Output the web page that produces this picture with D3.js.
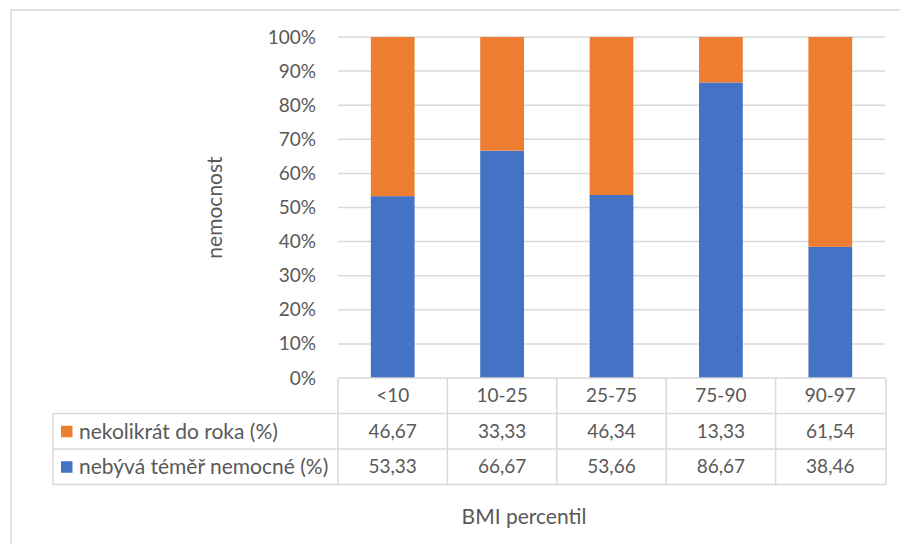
<!DOCTYPE html>
<html>
<head>
<meta charset="utf-8">
<script src="https://cdn.jsdelivr.net/npm/d3@7"></script>
<style>
  html, body { margin: 0; padding: 0; background: #fff; }
  svg { display: block; font-family: Lato, "Open Sans", sans-serif; }
</style>
</head>
<body>
<svg id="chart" width="900" height="544"></svg>
<script>
// BMI percentile groups and share of children in each illness frequency (%)
const categories = ["<10", "10-25", "25-75", "75-90", "90-97"];
const seriesNames = ["nekolikrát do roka (%)", "nebývá téměř nemocné (%)"];
const severalTimesYear = [46.67, 33.33, 46.34, 13.33, 61.54];
const almostNeverIll = [53.33, 66.67, 53.66, 86.67, 38.46];
const yTicks = [0, 10, 20, 30, 40, 50, 60, 70, 80, 90, 100];

const colors = { several: "#ED7D31", never: "#4472C4" };
const textColor = "#595959";
const lineColor = "#D9D9D9";
const numSize = 19;   // numbers and tick labels
const wordSize = 21;  // word labels and titles
const fmt = v => v.toFixed(2).replace(".", ",");

const svg = d3.select("#chart");

// outer chart frame
svg.append("rect")
  .attr("x", 11).attr("y", 10)
  .attr("width", 1000).attr("height", 1000)
  .attr("fill", "none").attr("stroke", lineColor).attr("stroke-width", 1.5);

const plot = { left: 338, right: 885, top: 37, bottom: 378 };

const x = d3.scaleBand()
  .domain(categories)
  .range([plot.left, plot.right])
  .paddingInner(0.6)
  .paddingOuter(0.3);

const y = d3.scaleLinear().domain([0, 100]).range([plot.bottom, plot.top]);

// gridlines
svg.append("g").selectAll("line").data(yTicks.filter(t => t > 0)).join("line")
  .attr("x1", plot.left).attr("x2", plot.right)
  .attr("y1", d => y(d)).attr("y2", d => y(d))
  .attr("stroke", lineColor).attr("stroke-width", 1.5);

// y axis labels
const yAxis = d3.axisLeft(y).tickValues(yTicks).tickFormat(d => d + "%").tickSize(0).tickPadding(22);
const yg = svg.append("g").attr("transform", `translate(${plot.left},0)`).call(yAxis);
yg.select(".domain").remove();
yg.selectAll("text")
  .attr("fill", textColor).style("font-size", numSize + "px")
  .style("font-family", "Lato, 'Open Sans', sans-serif");

// stacked columns
const rows = categories.map((c, i) => ({ cat: c, never: almostNeverIll[i], several: severalTimesYear[i] }));
const stack = d3.stack().keys(["never", "several"])(rows);
svg.append("g").selectAll("g").data(stack).join("g")
  .attr("fill", s => colors[s.key])
  .selectAll("rect").data(s => s).join("rect")
  .attr("x", d => x(d.data.cat))
  .attr("width", x.bandwidth())
  .attr("y", d => y(d[1]))
  .attr("height", d => y(d[0]) - y(d[1]));

// y axis title
svg.append("text")
  .attr("transform", `translate(222,${(plot.top + plot.bottom) / 2}) rotate(-90)`)
  .attr("text-anchor", "middle")
  .attr("fill", textColor).style("font-size", wordSize + "px")
  .text("nemocnost");

// data table beneath the plot
const rowH = 35.5;
const tableTop = plot.bottom;
const tableLeft = 53;
const colEdges = categories.map(c => x(c) - (x.step() - x.bandwidth()) / 2).concat([plot.right + 1]);
colEdges[0] = plot.left;
const tg = svg.append("g");

// horizontal rules
tg.append("line").attr("x1", plot.left).attr("x2", plot.right + 1)
  .attr("y1", tableTop).attr("y2", tableTop);
[1, 2, 3].forEach(r => {
  tg.append("line").attr("x1", tableLeft).attr("x2", plot.right + 1)
    .attr("y1", tableTop + r * rowH).attr("y2", tableTop + r * rowH);
});
// vertical rules
tg.append("line").attr("x1", tableLeft).attr("x2", tableLeft)
  .attr("y1", tableTop + rowH).attr("y2", tableTop + 3 * rowH);
tg.selectAll("line.v").data(colEdges).join("line").attr("class", "v")
  .attr("x1", d => d).attr("x2", d => d)
  .attr("y1", tableTop).attr("y2", tableTop + 3 * rowH);
tg.selectAll("line").attr("stroke", lineColor).attr("stroke-width", 1.5);

const cellText = (xPos, row, txt, anchor, size) => tg.append("text")
  .attr("x", xPos).attr("y", tableTop + row * rowH + rowH / 2)
  .attr("dy", "0.35em")
  .attr("text-anchor", anchor || "middle")
  .attr("fill", textColor).style("font-size", (size || numSize) + "px")
  .text(txt);

categories.forEach(c => cellText(x(c) + x.bandwidth() / 2, 0, c));
severalTimesYear.forEach((v, i) => cellText(x(categories[i]) + x.bandwidth() / 2, 1, fmt(v)));
almostNeverIll.forEach((v, i) => cellText(x(categories[i]) + x.bandwidth() / 2, 2, fmt(v)));

// series keys in the table
[["several", 1], ["never", 2]].forEach(([k, r], i) => {
  tg.append("rect")
    .attr("x", 61).attr("y", tableTop + r * rowH + rowH / 2 - 5.5)
    .attr("width", 11.5).attr("height", 11.5)
    .attr("fill", colors[k]);
  cellText(79, r, seriesNames[i], "start", wordSize);
});

// x axis title
svg.append("text")
  .attr("x", 524).attr("y", 524)
  .attr("text-anchor", "middle")
  .attr("fill", textColor).style("font-size", wordSize + "px")
  .text("BMI percentil");
</script>
</body>
</html>
